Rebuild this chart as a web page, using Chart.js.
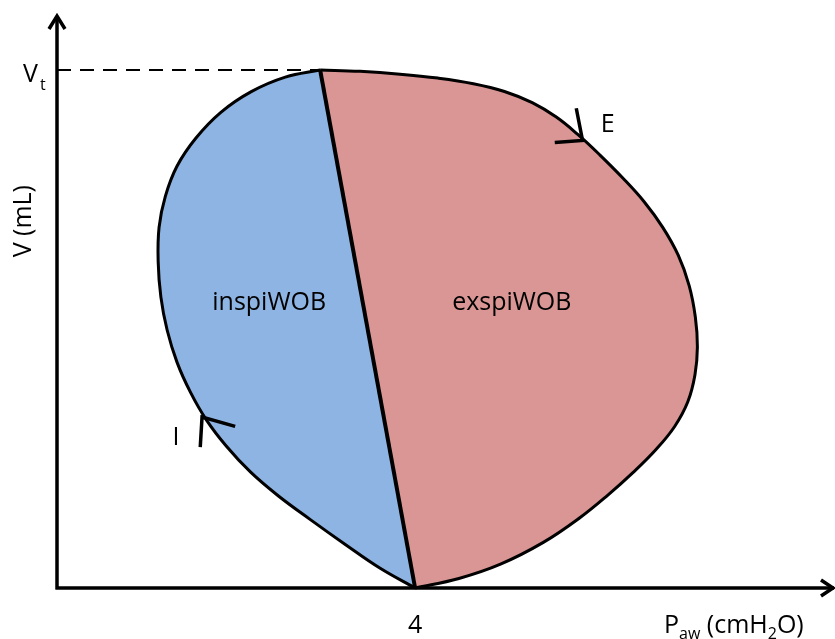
<!DOCTYPE html>
<html>
<head>
<meta charset="utf-8">
<script src="https://cdn.jsdelivr.net/npm/chart.js@4/dist/chart.umd.min.js"></script>
<style>
  html, body { margin: 0; padding: 0; background: #ffffff; }
  #wrap { width: 835px; height: 639px; }
</style>
</head>
<body>
<div id="wrap"><canvas id="c" width="835" height="639"></canvas></div>
<script>
// ---- data (x: Paw in cmH2O-like units, y: volume in mL, Vt = 500) ----
const inspX = [4.00, 3.61, 3.22, 2.83, 2.47, 2.16, 1.89, 1.67, 1.49, 1.34, 1.23, 1.16, 1.13, 1.14, 1.21, 1.34, 1.55, 1.83, 2.17, 2.55, 2.94];
const inspY = [0, 19, 42, 66, 89, 112, 137, 162, 189, 218, 249, 281, 315, 348, 378, 407, 434, 459, 479, 493, 500];

const expX = [2.939, 3.385, 3.831, 4.254, 4.651, 4.998, 5.308, 5.577, 5.820, 6.065, 6.317, 6.556, 6.766, 6.940, 7.061, 7.130, 7.153, 7.126, 7.046, 6.899, 6.688, 6.436, 6.153, 5.840, 5.432, 4.954, 4.489, 4.000];
const expY = [500.0, 498.6, 495.9, 492.1, 486.7, 479.2, 468.4, 454.5, 437.5, 417.8, 395.9, 373.0, 348.0, 320.9, 291.9, 261.6, 232.7, 205.8, 179.7, 155.9, 133.4, 111.6, 89.7, 67.8, 44.0, 23.0, 9.2, 0];

const divideX = [2.939, 4.0];
const divideY = [500, 0];

const arrowIX = [1.60, 1.62, 1.99];
const arrowIY = [136, 165, 156];
const arrowEX = [5.80, 5.87, 5.56];
const arrowEY = [463, 432, 430];

const vtValue = 500;
const peepValue = 4;
const xTickLabels = ['4'];

const xMax = 8.69;
const yMax = 553;

const toPts = (xs, ys) => xs.map((x, i) => ({x: x, y: ys[i]}));

const FONT = '"Open Sans", "DejaVu Sans", sans-serif';

const decorPlugin = {
  id: 'decor',
  afterDatasetsDraw(chart) {
    const ctx = chart.ctx;
    const xs = chart.scales.x, ys = chart.scales.y;
    const area = chart.chartArea;
    const ox = xs.getPixelForValue(0), oy = ys.getPixelForValue(0);
    ctx.save();
    // axes
    ctx.strokeStyle = '#000';
    ctx.lineWidth = 3.5;
    ctx.lineCap = 'butt';
    ctx.beginPath();
    ctx.moveTo(ox, oy + 1.5);
    ctx.lineTo(ox, area.top + 1);
    ctx.moveTo(ox - 1.5, oy);
    ctx.lineTo(area.right - 1, oy);
    ctx.stroke();
    ctx.lineJoin = 'miter';
    ctx.beginPath();
    ctx.moveTo(ox - 8, area.top + 14);
    ctx.lineTo(ox, area.top + 1);
    ctx.lineTo(ox + 8, area.top + 14);
    ctx.moveTo(area.right - 14, oy - 8);
    ctx.lineTo(area.right - 2, oy);
    ctx.lineTo(area.right - 14, oy + 8);
    ctx.stroke();

    // texts
    ctx.fillStyle = '#000';
    ctx.font = '25px ' + FONT;
    ctx.textBaseline = 'alphabetic';
    ctx.textAlign = 'center';
    ctx.fillText('inspiWOB', xs.getPixelForValue(2.37), ys.getPixelForValue(277) + 9);
    ctx.fillText('exspiWOB', xs.getPixelForValue(5.08), ys.getPixelForValue(277) + 9);
    ctx.fillText('I', xs.getPixelForValue(1.33), ys.getPixelForValue(147) + 9);
    ctx.fillText('E', xs.getPixelForValue(6.15), ys.getPixelForValue(449) + 9);
    // x tick label
    ctx.fillText(xTickLabels[0], xs.getPixelForValue(peepValue), oy + 45);

    // Vt label
    ctx.textAlign = 'left';
    const vy = ys.getPixelForValue(vtValue);
    ctx.font = '25px ' + FONT;
    ctx.fillText('V', ox - 34, vy + 12);
    ctx.font = '16px ' + FONT;
    ctx.fillText('t', ox - 17, vy + 20);

    // x axis title: P_aw (cmH2O)
    const base = oy + 45;
    let px = 664;
    const parts = [['P', 25, 0], ['aw', 16, 6], [' (cmH', 25, 0], ['2', 16, 6], ['O)', 25, 0]];
    for (const [t, s, dy] of parts) {
      ctx.font = s + 'px ' + FONT;
      ctx.fillText(t, px, base + dy);
      px += ctx.measureText(t).width;
    }

    // y axis title
    ctx.font = '25px ' + FONT;
    ctx.translate(ox - 33, ys.getPixelForValue(354));
    ctx.rotate(-Math.PI / 2);
    ctx.textAlign = 'center';
    ctx.textBaseline = 'middle';
    ctx.fillText('V (mL)', 0, 0);
    ctx.restore();
  }
};

const lineBase = { pointRadius: 0, borderColor: '#000', clip: false, fill: false, tension: 0 };

new Chart(document.getElementById('c'), {
  type: 'line',
  data: {
    datasets: [
      Object.assign({}, lineBase, { data: toPts(arrowIX, arrowIY), borderWidth: 3.5, borderJoinStyle: 'miter' }),
      Object.assign({}, lineBase, { data: toPts(arrowEX, arrowEY), borderWidth: 3.5, borderJoinStyle: 'miter' }),
      Object.assign({}, lineBase, { data: toPts(divideX, divideY), borderWidth: 4 }),
      Object.assign({}, lineBase, { data: [{x: 0, y: vtValue}, {x: divideX[0], y: vtValue}], borderWidth: 2, borderDash: [14, 9] }),
      Object.assign({}, lineBase, { data: toPts(inspX, inspY), borderWidth: 3, backgroundColor: '#8EB4E3', tension: 0.4, fill: 'shape' }),
      Object.assign({}, lineBase, { data: toPts(expX, expY), borderWidth: 3, backgroundColor: '#D99694', tension: 0.4, fill: 'shape' })
    ]
  },
  options: {
    responsive: false,
    animation: false,
    layout: { padding: { left: 57, right: 0, top: 15, bottom: 51 } },
    scales: {
      x: { type: 'linear', min: 0, max: xMax, display: false },
      y: { type: 'linear', min: 0, max: yMax, display: false }
    },
    plugins: { legend: { display: false }, tooltip: { enabled: false } }
  },
  plugins: [decorPlugin]
});
</script>
</body>
</html>
